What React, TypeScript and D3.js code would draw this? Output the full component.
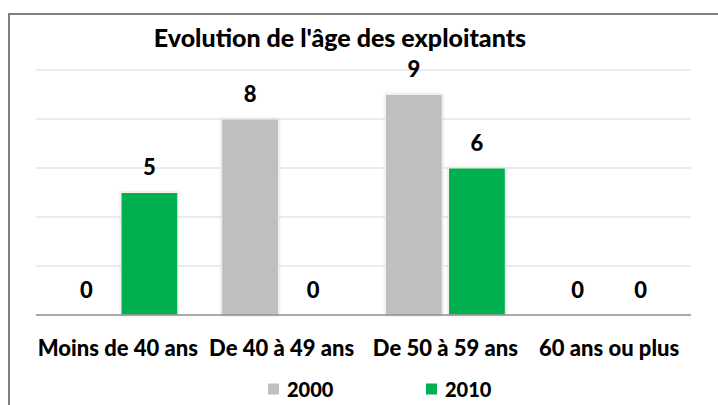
import * as d3 from "d3";
import React, { useEffect, useRef } from "react";

const categories = ["Moins de 40 ans", "De 40 à 49 ans", "De 50 à 59 ans", "60 ans ou plus"];
const seriesNames = ["2000", "2010"];
const values2000 = [0, 8, 9, 0];
const values2010 = [5, 0, 6, 0];
const seriesColors = ["#BFBFBF", "#00B050"];
const gridTicks = [0, 2, 4, 6, 8, 10];

export default function App() {
  const svgRef = useRef<SVGSVGElement>(null);

  useEffect(() => {
    const svg = d3.select(svgRef.current);
    svg.selectAll("*").remove();

    const width = 718;
    const height = 405;
    const font = "Lato, 'Open Sans', sans-serif";
    const weight = 900;

    // Shadow for the bars
    const defs = svg.append("defs");
    const filter = defs.append("filter").attr("id", "barShadow")
      .attr("x", "-10%").attr("y", "-10%").attr("width", "120%").attr("height", "120%");
    filter.append("feDropShadow")
      .attr("dx", 0).attr("dy", 0).attr("stdDeviation", 1)
      .attr("flood-color", "#000").attr("flood-opacity", 0.18);

    svg.append("rect").attr("width", width).attr("height", height).attr("fill", "#fff");

    // Frame (only left and top visible)
    svg.append("rect")
      .attr("x", 9).attr("y", 14)
      .attr("width", width + 20).attr("height", height + 20)
      .attr("fill", "none")
      .attr("stroke", "#7f7f7f")
      .attr("stroke-width", 2);

    const left = 36, right = 691, top = 70, bottom = 315;

    const x0 = d3.scaleBand().domain(categories).range([left, right]).padding(0);
    const bw = x0.bandwidth();
    const x1 = d3.scaleBand().domain(seriesNames)
      .range([bw * 0.134, bw * 0.866]).paddingInner(0.1);
    const y = d3.scaleLinear().domain([0, 10]).range([bottom, top]);

    // Grid
    svg.append("g")
      .selectAll("line")
      .data(gridTicks.filter(t => t > 0))
      .join("line")
      .attr("x1", left).attr("x2", right)
      .attr("y1", d => y(d)).attr("y2", d => y(d))
      .attr("stroke", "#d9d9d9").attr("stroke-width", 1.2);

    const data = categories.map((c, i) => ({
      category: c,
      items: [
        { series: seriesNames[0], value: values2000[i], color: seriesColors[0] },
        { series: seriesNames[1], value: values2010[i], color: seriesColors[1] },
      ],
    }));

    const groups = svg.append("g")
      .selectAll("g")
      .data(data)
      .join("g")
      .attr("transform", d => `translate(${x0(d.category)},0)`);

    groups.selectAll("rect")
      .data(d => d.items.filter(it => it.value > 0))
      .join("rect")
      .attr("x", d => x1(d.series)!)
      .attr("y", d => y(d.value))
      .attr("width", x1.bandwidth())
      .attr("height", d => y(0) - y(d.value))
      .attr("fill", d => d.color)
      .attr("stroke", "#f4efe9")
      .attr("stroke-width", 1)
      .attr("filter", "url(#barShadow)");

    groups.selectAll("text")
      .data(d => d.items)
      .join("text")
      .attr("x", d => x1(d.series)! + x1.bandwidth() / 2)
      .attr("y", d => y(d.value) - 26)
      .attr("text-anchor", "middle")
      .attr("dominant-baseline", "central")
      .style("font-family", font)
      .style("font-weight", weight)
      .style("font-size", "22px")
      .attr("fill", "#000")
      .text(d => d.value);

    // Baseline
    svg.append("line")
      .attr("x1", left).attr("x2", right)
      .attr("y1", y(0)).attr("y2", y(0))
      .attr("stroke", "#8c8c8c").attr("stroke-width", 1.5);

    // Category labels
    svg.append("g")
      .selectAll("text")
      .data(categories)
      .join("text")
      .attr("x", d => x0(d)! + bw / 2)
      .attr("y", 347)
      .attr("text-anchor", "middle")
      .attr("dominant-baseline", "central")
      .style("font-family", font)
      .style("font-weight", weight)
      .style("font-size", "22px")
      .attr("fill", "#000")
      .text(d => d);

    // Title
    svg.append("text")
      .attr("x", 340)
      .attr("y", 37)
      .attr("text-anchor", "middle")
      .attr("dominant-baseline", "central")
      .style("font-family", font)
      .style("font-weight", weight)
      .style("font-size", "25px")
      .attr("fill", "#000")
      .text("Evolution de l'âge des exploitants");

    // Legend
    const legendX = [268, 426];
    const legend = svg.append("g")
      .selectAll("g")
      .data(seriesNames)
      .join("g")
      .attr("transform", (d, i) => `translate(${legendX[i]},389)`);

    legend.append("rect")
      .attr("x", 0).attr("y", -5.5)
      .attr("width", 11).attr("height", 11)
      .attr("fill", (d, i) => seriesColors[i]);

    legend.append("text")
      .attr("x", 19)
      .attr("y", 0)
      .attr("dominant-baseline", "central")
      .style("font-family", font)
      .style("font-weight", weight)
      .style("font-size", "20px")
      .attr("fill", "#000")
      .text(d => d);
  }, []);

  return (
    <svg
      ref={svgRef}
      width={718}
      height={405}
      style={{ position: "absolute", left: 0, top: 0 }}
    ></svg>
  );
}
